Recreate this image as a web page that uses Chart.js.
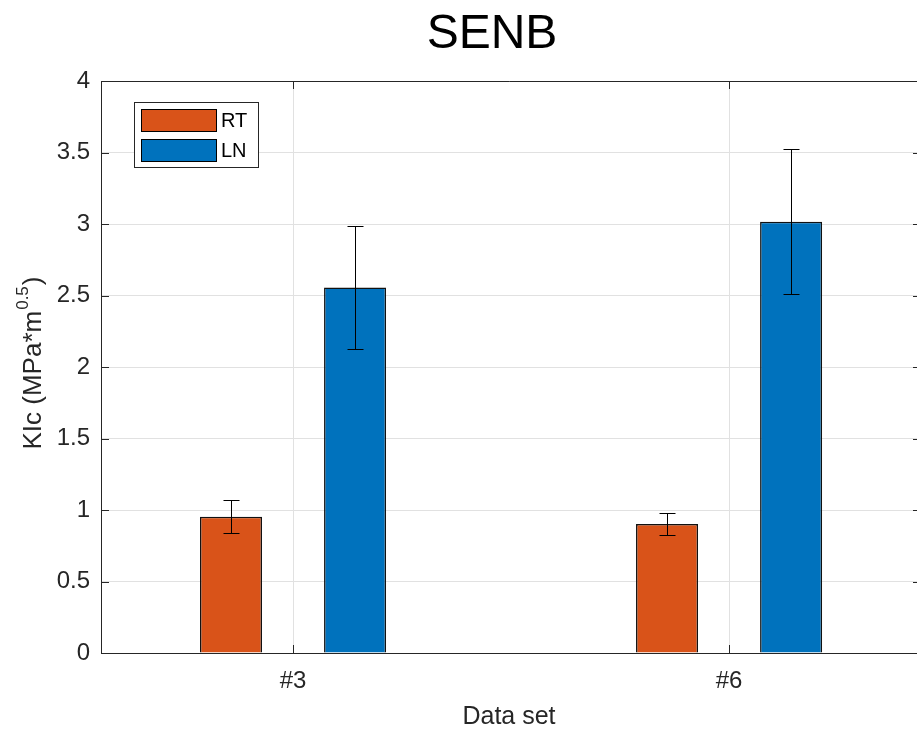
<!DOCTYPE html>
<html>
<head>
<meta charset="utf-8">
<script src="https://cdn.jsdelivr.net/npm/chart.js@4"></script>
<style>
  html, body { margin: 0; padding: 0; background: #fff; }
</style>
</head>
<body>
<canvas id="senb" width="917" height="733"></canvas>
<script>
var categories = ['#3', '#6'];
var rtValues = [0.953, 0.902];
var rtErrors = [0.114, 0.077];
var lnValues = [2.556, 3.016];
var lnErrors = [0.432, 0.508];
var yTicks = [0, 0.5, 1, 1.5, 2, 2.5, 3, 3.5, 4];

var fontFamily = "'Liberation Sans', Arial, Helvetica, sans-serif";
var axisColor = '#262626';
var gridColor = '#e1e1e1';

Chart.defaults.font.family = fontFamily;

// matlab style extras: error bars, axes box, inner ticks, boxed legend, titles
var matlabLook = {
  id: 'matlabLook',
  afterDatasetsDraw: function (chart) {
    var ctx = chart.ctx, y = chart.scales.y;
    ctx.save();
    ctx.strokeStyle = '#000';
    ctx.lineWidth = 1;
    chart.data.datasets.forEach(function (ds, di) {
      chart.getDatasetMeta(di).data.forEach(function (bar, i) {
        var v = ds.data[i].y, e = ds.errors[i];
        var x = Math.round(bar.x) + 0.5;
        var top = Math.round(y.getPixelForValue(v + e)) + 0.5;
        var bot = Math.round(y.getPixelForValue(v - e)) + 0.5;
        ctx.beginPath();
        ctx.moveTo(x, top); ctx.lineTo(x, bot);
        ctx.moveTo(x - 8, top); ctx.lineTo(x + 8, top);
        ctx.moveTo(x - 8, bot); ctx.lineTo(x + 8, bot);
        ctx.stroke();
      });
    });
    ctx.restore();
  },
  afterDraw: function (chart) {
    var ctx = chart.ctx, a = chart.chartArea;
    var xs = chart.scales.x, ys = chart.scales.y;
    ctx.save();

    // axes box (right side falls off the canvas)
    ctx.strokeStyle = axisColor;
    ctx.lineWidth = 1;
    ctx.beginPath();
    ctx.moveTo(a.left + 0.5, a.bottom + 0.5);
    ctx.lineTo(a.left + 0.5, a.top + 0.5);
    ctx.lineTo(a.right, a.top + 0.5);
    ctx.moveTo(a.left, a.bottom + 0.5);
    ctx.lineTo(a.right, a.bottom + 0.5);
    // inner tick marks
    yTicks.forEach(function (t) {
      var py = Math.round(ys.getPixelForValue(t)) + 0.5;
      ctx.moveTo(a.left, py); ctx.lineTo(a.left + 8, py);
      ctx.moveTo(a.right, py); ctx.lineTo(a.right - 4, py);
    });
    categories.forEach(function (c, i) {
      var px = Math.round(xs.getPixelForValue(i + 1)) + 0.5;
      ctx.moveTo(px, a.bottom); ctx.lineTo(px, a.bottom - 8);
      ctx.moveTo(px, a.top); ctx.lineTo(px, a.top + 8);
    });
    ctx.stroke();

    // legend box
    var lx = a.left + 33, ly = a.top + 21, lw = 124, lh = 65;
    ctx.fillStyle = '#fff';
    ctx.fillRect(lx, ly, lw, lh);
    ctx.strokeStyle = axisColor;
    ctx.strokeRect(lx + 0.5, ly + 0.5, lw, lh);
    ctx.font = '20px ' + fontFamily;
    ctx.textBaseline = 'middle';
    ctx.textAlign = 'left';
    chart.data.datasets.forEach(function (ds, i) {
      var sy = ly + 7 + i * 30;
      ctx.fillStyle = ds.backgroundColor;
      ctx.fillRect(lx + 7, sy, 75, 22);
      ctx.strokeStyle = '#000';
      ctx.strokeRect(lx + 7.5, sy + 0.5, 75, 22);
      ctx.fillStyle = '#000';
      ctx.fillText(ds.label, lx + 87, sy + 12);
    });

    // y axis title with superscript
    ctx.translate(41, 364);
    ctx.rotate(-Math.PI / 2);
    var mainFont = '26px ' + fontFamily, supFont = '17px ' + fontFamily;
    var p1 = 'KIc (MPa*m', p2 = '0.5', p3 = ')';
    ctx.font = mainFont;
    var w1 = ctx.measureText(p1).width, w3 = ctx.measureText(p3).width;
    ctx.font = supFont;
    var w2 = ctx.measureText(p2).width;
    var x0 = -(w1 + w2 + w3) / 2;
    ctx.textBaseline = 'alphabetic';
    ctx.fillStyle = axisColor;
    ctx.font = mainFont; ctx.fillText(p1, x0, 0);
    ctx.font = supFont; ctx.fillText(p2, x0 + w1 + 1, -13);
    ctx.font = mainFont; ctx.fillText(p3, x0 + w1 + w2 + 2, 0);
    ctx.restore();

    // chart title
    ctx.save();
    ctx.font = '48px ' + fontFamily;
    ctx.fillStyle = '#000';
    ctx.textAlign = 'center';
    ctx.textBaseline = 'alphabetic';
    ctx.fillText('SENB', 492, 48);
    ctx.restore();
  }
};

function series(values) {
  return values.map(function (v, i) { return { x: i + 1, y: v }; });
}

new Chart(document.getElementById('senb'), {
  type: 'bar',
  data: {
    datasets: [
      {
        label: 'RT',
        data: series(rtValues),
        errors: rtErrors,
        backgroundColor: '#D95319',
        borderColor: '#111',
        borderWidth: 1.5,
        categoryPercentage: 0.569,
        barPercentage: 0.5
      },
      {
        label: 'LN',
        data: series(lnValues),
        errors: lnErrors,
        backgroundColor: '#0072BD',
        borderColor: '#111',
        borderWidth: 1.5,
        categoryPercentage: 0.569,
        barPercentage: 0.5
      }
    ]
  },
  options: {
    responsive: false,
    animation: false,
    layout: { padding: { top: 81, left: 0, right: 0, bottom: 0 } },
    plugins: {
      legend: { display: false },
      tooltip: { enabled: false },
      title: { display: false }
    },
    scales: {
      x: {
        type: 'linear',
        min: 0.5596,
        max: 2.431,
        offset: false,
        afterBuildTicks: function (s) {
          s.ticks = categories.map(function (c, i) { return { value: i + 1 }; });
        },
        afterFit: function (s) { s.height = 80; },
        grid: { color: gridColor, drawTicks: false, offset: false },
        border: { display: false },
        ticks: {
          padding: 14,
          color: axisColor,
          maxRotation: 0,
          font: { size: 24 },
          callback: function (v) { return categories[v - 1]; }
        },
        title: {
          display: true,
          text: 'Data set',
          color: axisColor,
          font: { size: 25 },
          padding: { top: 0, bottom: 1 }
        }
      },
      y: {
        min: 0,
        max: 4,
        afterBuildTicks: function (s) {
          s.ticks = yTicks.map(function (v) { return { value: v }; });
        },
        afterFit: function (s) { s.width = 101; },
        grid: { color: gridColor, drawTicks: false },
        border: { display: false },
        ticks: {
          padding: 11,
          color: axisColor,
          font: { size: 24 },
          callback: function (v) { return String(v); }
        }
      }
    }
  },
  plugins: [matlabLook]
});
</script>
</body>
</html>
